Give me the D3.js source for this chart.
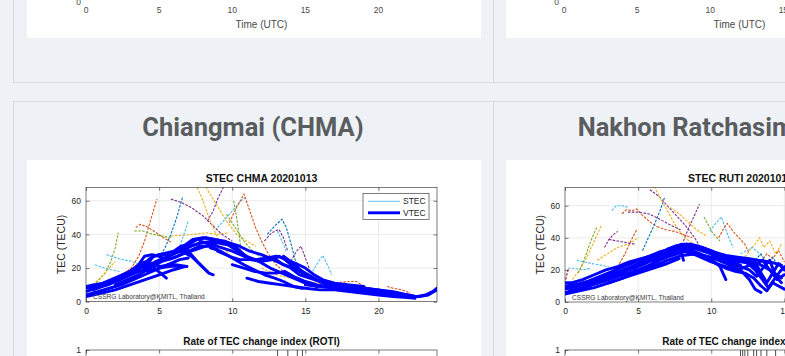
<!DOCTYPE html>
<html><head><meta charset="utf-8">
<script src="https://cdn.jsdelivr.net/npm/d3@7"></script>
<style>
html,body{margin:0;padding:0;background:#eef2f6;overflow:hidden;}
svg{display:block;}
</style></head><body>
<svg id="page" width="785" height="356"></svg>
<script>
// ---- axis ticks ----
const hourTicks = [0, 5, 10, 15, 20];
const tecTicks = [0, 20, 40, 60];

// ---- Chiangmai (CHMA) slant TEC passes: [hour UTC, TECU] ----
const chmaStec = [
  [[0.3,8],[0.8,12],[1.3,17],[1.7,24],[2.0,32],[2.2,41]],
  [[0.2,9],[0.7,12],[1.2,16],[1.6,20],[2.0,24]],
  [[1.4,28],[1.9,26.5],[2.5,25],[3.1,24],[3.7,22],[4.2,21]],
  [[0.6,22],[1.1,20.5],[1.7,19],[2.3,18]],
  [[2.6,17],[3.1,20],[3.6,27],[4.0,36],[4.4,48],[4.85,61]],
  [[3.4,44],[3.7,46],[4.2,44.5],[4.8,41],[5.3,38],[5.8,35.5]],
  [[3.3,42],[3.9,42],[4.6,40],[5.2,39],[5.8,38]],
  [[5.8,39],[6.6,39.5],[7.4,40],[8.2,41],[9.0,40],[9.8,41]],
  [[5.0,26],[5.4,32],[5.8,40],[6.2,50],[6.6,62]],
  [[6.0,27],[6.4,33],[6.7,40],[7.0,48]],
  [[5.8,61],[6.5,59],[7.2,56],[8.0,51],[8.7,45],[9.3,40],[10.0,36]],
  [[7.6,68],[8.0,60],[8.4,50],[8.9,40],[9.4,32],[9.9,27]],
  [[8.2,68],[8.9,58],[9.6,48],[10.3,40],[11.0,36],[11.6,33]],
  [[8.3,48],[8.7,54],[9.0,61],[9.4,68]],
  [[9.0,44],[9.6,50],[10.1,55],[10.6,60],[10.9,62]],
  [[9.8,47],[10.3,56],[10.8,64],[11.2,54],[11.6,44],[12.0,36],[12.5,28],[13.0,22],[13.5,18]],
  [[10.1,60],[10.3,50],[10.5,38],[10.6,30],[10.8,24]],
  [[12.4,40],[12.9,45],[13.4,49],[13.7,44],[14.0,35],[14.3,25],[14.6,20]],
  [[12.2,36],[12.7,41],[13.2,43],[13.5,38],[13.8,30]],
  [[13.1,42],[13.3,38],[13.5,34],[13.7,30]],
  [[14.0,24],[14.4,30],[14.7,33],[15.0,26],[15.3,19]],
  [[15.5,18],[15.9,24],[16.2,27.5],[16.5,22],[16.8,16]],
  [[16.8,11],[17.4,11.5],[18.0,12],[18.5,12],[19.0,9],[19.5,8]],
  [[20.6,9],[21.0,8],[21.6,7],[22.2,5]],
  [[12.0,20],[13.0,16],[14.0,14],[15.0,12],[16.0,11]],
  [[9.6,52],[10.2,44],[10.8,36],[11.4,30],[12.0,26]]
];

// ---- Chiangmai (CHMA) vertical TEC passes ----
const chmaVtec = [
  [[0,4],[0.8,6],[1.6,8],[2.4,10],[3.2,13],[4,16],[4.8,19],[5.6,22],[6.4,25],[7,26]],
  [[0,6],[0.7,8],[1.5,10],[2.3,13],[3.1,16],[3.9,19],[4.7,22],[5.5,26],[6.3,30],[7.1,33],[7.9,35],[8.6,36],[9.3,35],[10,33]],
  [[0,9],[0.5,10],[1.2,11],[2,13],[2.8,16],[3.5,19],[4.2,22],[4.6,27],[5,28],[5.5,29],[6,30],[6.5,33],[7,34],[7.6,37],[8.2,38],[8.8,37],[9.5,36],[10.2,33],[10.8,28]],
  [[0.5,7],[1.3,10],[2.2,14],[3,17],[3.8,21],[4.2,24],[4.6,22],[5.1,21],[5.7,22],[6.1,22],[6.9,21]],
  [[1.6,12],[2.4,15],[3.2,19],[3.8,23],[4.2,24],[4.8,19],[5.5,14]],
  [[4,20],[4.8,24],[5.6,27],[6.3,30],[6.9,31],[7.6,24],[8.3,18]],
  [[3,17],[3.8,21],[4.4,26],[5,28],[5.8,28],[6.5,30],[7.2,33],[7.8,35],[8.5,35],[9.2,36],[9.8,35],[10.5,33],[11.2,30],[12,28],[12.8,25],[13.5,22],[14.2,20],[15,16],[15.8,13],[16.5,10]],
  [[4.2,18],[5,20],[5.8,21],[6.9,21]],
  [[6.5,32],[7.3,37],[8,38],[8.8,37],[9.5,35],[10.2,31],[11,27],[11.8,24],[12.6,20],[13.4,17],[14.2,14],[15,11],[15.8,9]],
  [[7.8,36],[8.6,34],[9.3,32],[10,30],[10.8,27],[11.6,25],[12.4,26],[13,27],[13.5,26],[14,22],[14.6,19],[15.2,16],[16,12],[16.8,9],[17.5,8]],
  [[8.5,32],[9.2,30],[10,26],[10.8,22],[11.5,19],[12.2,16],[12.9,14],[13.5,12],[14.2,9],[14.8,8]],
  [[9,30],[9.8,27],[10.5,25],[11.2,25],[12,24],[12.8,25],[13.2,27],[13.8,24],[14.5,20],[15.2,15],[16,12],[17,10],[18,8],[19,7],[20,6],[21,5]],
  [[10,22],[10.8,20],[11.5,18],[12.3,17],[13,17],[13.6,18],[14.2,15],[15,12],[15.8,10],[16.6,9],[17.5,8],[18.4,7]],
  [[6.5,30],[7.2,27],[7.8,22],[8.4,17],[8.7,16]],
  [[13,25],[13.5,22],[14,20],[14.6,16],[15.3,14],[16,12],[17,10],[18,9],[19,8],[20,7],[21,6],[22,4],[22.6,3]],
  [[15,10],[16,9],[17,8],[18,7],[19,6],[20,5],[21,4],[22,3],[22.8,3],[23.4,4],[24,7]],
  [[18,9],[19,8],[20,7],[21,5],[22,4],[22.6,3],[23.2,4],[23.7,6],[24,8]],
  [[13.5,27],[14,24],[14.5,22],[15,20],[15.6,16],[16.2,13],[17,11],[18,10],[19,9]],
  [[0,3],[1,5],[2,7],[3,10],[4,13],[5,16],[6,19],[6.8,21]],
  [[0,8],[0.6,9],[1.4,12],[2.2,15],[3,18],[3.6,22],[4,27],[4.5,28],[5,27],[5.6,25],[6.2,27],[7,30],[7.8,33],[8.4,33],[9,31]],
  [[2,10],[2.8,13],[3.6,16],[4.4,20],[5.2,24],[6,26],[6.8,29],[7.5,31],[8.2,33],[9,35],[9.6,34]],
  [[11,14],[11.8,12],[12.6,11],[13.4,10],[14.2,9],[15,8],[16,7],[17,7],[18,6],[19,5],[20,4],[21,3],[22,2.5],[22.5,2]]
];

// ---- Nakhon Ratchasima (RUTI) slant TEC passes ----
const rutiStec = [
  [[0.05,14],[0.15,18],[0.25,21]],
  [[0.2,21],[0.7,21],[1.2,20],[1.7,21]],
  [[0.5,14],[1.0,20],[1.5,28],[2.0,38],[2.5,48]],
  [[0.9,18],[1.3,26],[1.6,34],[1.9,41],[2.2,47]],
  [[0.8,26],[1.3,25],[1.8,24],[2.4,23],[3.0,22]],
  [[2.7,34],[3.0,39],[3.3,42],[3.6,44]],
  [[3.1,16],[3.6,22],[4.1,30],[4.5,38],[4.9,45]],
  [[2.2,26],[2.9,30],[3.6,34],[4.3,36],[5.0,40]],
  [[3.9,55],[4.2,57.5],[4.6,57],[4.9,58],[5.3,54],[5.8,50],[6.3,47]],
  [[3.2,57],[3.5,60],[3.9,60],[4.3,59]],
  [[3.0,39],[3.6,38],[4.2,37],[4.8,36]],
  [[5.3,32],[5.7,40],[6.1,48],[6.5,57],[6.8,65]],
  [[5.8,70],[6.4,66],[7.0,60],[7.6,54],[8.2,48],[8.8,41],[9.2,35]],
  [[8.1,38],[8.4,45],[8.7,51],[9.0,57],[9.2,61]],
  [[6.1,72],[6.5,65],[7.0,57],[7.6,47],[8.2,40],[8.8,36]],
  [[7.2,59],[7.8,55],[8.4,50],[9.0,45],[9.7,41]],
  [[6.3,47],[6.9,45],[7.5,44],[8.1,42],[8.7,40]],
  [[9.5,53],[9.8,48],[10.1,43],[10.4,40],[10.6,38]],
  [[9.9,44],[10.3,49],[10.7,53],[11.0,45],[11.3,38],[11.5,34]],
  [[10.5,40],[10.8,45],[11.1,49],[11.5,44],[11.9,40],[12.3,36],[12.6,30]],
  [[12.3,28],[12.7,33],[13.0,36],[13.3,40],[13.6,34],[14.0,38],[14.4,30],[14.8,36]],
  [[12.0,30],[12.4,32],[12.8,34],[13.2,31],[13.5,28]],
  [[13.4,25],[13.8,30],[14.2,27],[14.6,32],[15.0,25]],
  [[13.0,26],[13.4,30],[13.8,24],[14.2,28],[14.6,22]],
  [[4.3,56],[5.0,56],[5.7,55],[6.4,52],[7.2,48],[7.9,45]]
];

// ---- Nakhon Ratchasima (RUTI) vertical TEC passes ----
const rutiVtec = [
  [[0,6],[1,8],[2,11],[3,14],[4,17],[5,20],[6,24],[7,28],[8,31],[8.8,33]],
  [[0,8],[1,10],[2,13],[3,16],[4,19],[5,22],[6,26],[7,30],[8,33],[9,33],[10,30],[11,26],[12,23]],
  [[0,10],[0.8,11],[1.6,13],[2.4,16],[3.2,19],[4,22],[4.8,25],[5.6,28],[6.4,31],[7.2,33],[8,35],[8.8,34],[9.6,32],[10.4,28],[11.2,26],[12,25],[12.8,24]],
  [[0,12],[0.5,12],[1.2,14],[2,17],[2.8,20],[3.6,22],[4.4,25],[5.2,27],[6,29],[6.8,32],[7.6,35],[8.3,36],[9,34],[9.8,31],[10.6,27],[11.4,25]],
  [[0.3,7],[1.2,9],[2.1,12],[3,15],[3.8,18],[4.6,21],[5.3,19]],
  [[2.5,15],[3.5,18],[4.5,21],[5.5,25],[6.5,29],[7.3,32],[7.9,33],[8.1,26]],
  [[4,20],[5,23],[6,27],[7,32],[7.8,34],[8.6,35],[9.4,33],[10.2,30],[11,27],[11.8,27],[12.5,26],[13.2,24],[14,20],[14.8,15]],
  [[6,25],[7,29],[8,33],[9,31],[10,27],[10.6,22],[11,14]],
  [[8,32],[9,29],[10,25],[11,22],[11.8,20],[12.4,22],[13,25],[13.4,18],[13.8,12],[14.2,18],[14.6,24],[15,20]],
  [[9.5,28],[10.3,24],[11,21],[11.7,19],[12.3,18],[12.9,15],[13.4,10],[13.8,7],[14.2,12],[14.6,10],[15,8]],
  [[10.5,26],[11.3,24],[12,22],[12.6,20],[13.1,16],[13.6,22],[14,26],[14.4,16],[14.8,12]],
  [[12.5,24],[13,20],[13.5,14],[13.9,9],[14.3,14],[14.7,19],[15,22]],
  [[11.8,26],[12.4,27],[13,23],[13.5,26],[14,20],[14.5,14],[15,17]],
  [[1.5,11],[2.5,13],[3.5,16],[4.5,18],[5.5,21],[6.5,24]],
  [[0,5],[1,7],[2,9],[3,12],[4,15],[5,18],[6,21],[7,24],[7.8,27]],
  [[0,9],[1,11],[2,14],[3,17],[4,20],[5,24],[6,28],[7,31],[8,34],[9,35],[10,32],[11,28],[12,26],[13,22],[13.6,15]],
  [[3,12],[4,15],[5,19],[6,22],[7,26],[8,29],[9,30],[10,28],[11,24],[12,20],[12.6,14],[13,8],[13.4,6]],
  [[7,33],[8,36],[8.6,36],[9.4,34],[10.2,31],[11,29],[11.8,28],[12.6,27],[13.2,26],[14,25],[14.8,23]]
];

// ---- ROTI samples above the top of the 0..1 axis: [hour, ROTI] ----
const chmaRoti = [[13.1,1.4],[13.8,1.3],[14.45,1.5],[14.8,1.3]];
const rutiRoti = [[12.0,1.3],[12.15,1.5],[12.3,1.2],[12.5,1.4],[12.9,1.3],[13.1,1.6],[13.4,1.2],[13.8,1.4],[14.4,1.3]];

// MATLAB default line colour order
const colorOrder = ['#0072BD','#D95319','#EDB120','#7E2F8E','#77AC30','#4DBEEE','#A2142F'];
const chmaStecColors = [4,2,5,5,1,1,4,2,0,5,3,2,2,3,5,1,4,0,3,5,3,5,1,1,2,4];
const rutiStecColors = [6,5,2,4,5,3,1,2,1,5,3,0,3,3,2,2,1,4,5,1,2,5,1,0,3];

const svg = d3.select('#page');
const FONT = "'Liberation Sans', Arial, Helvetica, sans-serif";

// ---- page frame ----
const frame = svg.append('g');
const borderColor = '#d3d9df';
// bottom of the previous row of cards
frame.append('rect').attr('x', 27).attr('y', 0).attr('width', 454).attr('height', 38).attr('fill', '#fff');
frame.append('rect').attr('x', 506).attr('y', 0).attr('width', 300).attr('height', 38).attr('fill', '#fff');
frame.append('line').attr('x1', 13.5).attr('x2', 13.5).attr('y1', 0).attr('y2', 82.5).attr('stroke', borderColor);
frame.append('line').attr('x1', 493.5).attr('x2', 493.5).attr('y1', 0).attr('y2', 82.5).attr('stroke', borderColor);
frame.append('line').attr('x1', 13.5).attr('x2', 785).attr('y1', 82.5).attr('y2', 82.5).attr('stroke', borderColor);
// current row of cards
frame.append('line').attr('x1', 13.5).attr('x2', 785).attr('y1', 101.5).attr('y2', 101.5).attr('stroke', borderColor);
frame.append('line').attr('x1', 13.5).attr('x2', 13.5).attr('y1', 101.5).attr('y2', 356).attr('stroke', borderColor);
frame.append('line').attr('x1', 493.5).attr('x2', 493.5).attr('y1', 101.5).attr('y2', 356).attr('stroke', borderColor);
frame.append('rect').attr('x', 27).attr('y', 160).attr('width', 454).attr('height', 200).attr('fill', '#fff');
frame.append('rect').attr('x', 506).attr('y', 160).attr('width', 300).attr('height', 200).attr('fill', '#fff');

const cardTitles = [
  {text: 'Chiangmai (CHMA)', cx: 253},
  {text: 'Nakhon Ratchasima (RUTI)', cx: 733}
];
frame.selectAll('text.card').data(cardTitles).join('text')
  .attr('class', 'card')
  .attr('x', d => d.cx).attr('y', 135.5)
  .attr('text-anchor', 'middle')
  .style('font-family', "Roboto, 'Noto Sans', sans-serif")
  .style('font-weight', 700).style('font-size', '25.5px')
  .style('fill', '#5a5d60')
  .text(d => d.text);

// x-axis labels of the row above
function drawUpperAxisTail(left) {
  const x = d3.scaleLinear().domain([0, 24]).range([left, left + 351]);
  const g = svg.append('g').style('font-family', FONT);
  g.selectAll('text.tick').data(hourTicks).join('text')
    .attr('x', d => x(d)).attr('y', 13)
    .attr('text-anchor', 'middle').style('font-size', '8.5px').style('fill', '#4a4a4a')
    .text(d => d);
  g.append('text').attr('x', x(12)).attr('y', 28).attr('text-anchor', 'middle')
    .style('font-size', '10px').style('fill', '#4a4a4a').text('Time (UTC)');
  g.append('text').attr('x', left - 5).attr('y', 5).attr('text-anchor', 'end')
    .style('font-size', '8.5px').style('fill', '#4a4a4a').text('0');
}
drawUpperAxisTail(86);
drawUpperAxisTail(564);

// ---- one station figure: STEC/VTEC axes plus the top of the ROTI axes ----
function drawStation(cfg) {
  const x = d3.scaleLinear().domain([0, 24]).range([cfg.left, cfg.left + 351]);
  const y = d3.scaleLinear().domain([0, cfg.ymax]).range([cfg.bottom, cfg.top]);
  const g = svg.append('g').style('font-family', FONT);
  const clipId = 'clip-' + cfg.id;
  g.append('clipPath').attr('id', clipId).append('rect')
    .attr('x', x(0)).attr('y', y(cfg.ymax)).attr('width', x(24) - x(0)).attr('height', y(0) - y(cfg.ymax));

  // grid
  const grid = g.append('g').attr('stroke', '#e3e3e3').attr('stroke-width', 0.7);
  grid.selectAll('line.gx').data(hourTicks.slice(1)).join('line')
    .attr('x1', d => x(d)).attr('x2', d => x(d)).attr('y1', y(0)).attr('y2', y(cfg.ymax));
  grid.selectAll('line.gy').data(tecTicks.slice(1)).join('line')
    .attr('x1', x(0)).attr('x2', x(24)).attr('y1', d => y(d)).attr('y2', d => y(d));

  const line = d3.line().x(d => x(d[0])).y(d => y(d[1]));
  const plot = g.append('g').attr('clip-path', `url(#${clipId})`);
  plot.selectAll('path.stec').data(cfg.stec).join('path')
    .attr('d', line).attr('fill', 'none')
    .attr('stroke', (d, i) => colorOrder[cfg.stecColors[i % cfg.stecColors.length]])
    .attr('stroke-width', 1.1).attr('stroke-dasharray', '2.6,1.3');
  plot.selectAll('path.vtec').data(cfg.vtec).join('path')
    .attr('d', line).attr('fill', 'none')
    .attr('stroke', '#0000ff').attr('stroke-width', 2.9)
    .attr('stroke-linejoin', 'round').attr('stroke-linecap', 'round');

  g.append('text').attr('x', x(0) + 7).attr('y', y(0) - 2.5)
    .style('font-size', '6.6px').style('fill', '#3a3a3a')
    .text('CSSRG Laboratory@KMITL, Thailand');

  // axes
  const axisColor = '#262626';
  const styleAxis = sel => {
    sel.select('.domain').remove();
    sel.selectAll('line').attr('stroke', axisColor).attr('stroke-width', 0.6);
    sel.selectAll('text').style('font-size', '8.5px').style('fill', axisColor).style('font-family', FONT);
  };
  g.append('g').attr('transform', `translate(0,${y(0)})`)
    .call(d3.axisBottom(x).tickValues(hourTicks).tickSizeInner(-3.5).tickSizeOuter(0).tickPadding(6))
    .call(styleAxis);
  g.append('g').attr('transform', `translate(0,${y(cfg.ymax)})`)
    .call(d3.axisTop(x).tickValues(hourTicks).tickSizeInner(-3.5).tickSizeOuter(0).tickFormat(''))
    .call(styleAxis);
  g.append('g').attr('transform', `translate(${x(0)},0)`)
    .call(d3.axisLeft(y).tickValues(tecTicks).tickSizeInner(-3.5).tickSizeOuter(0).tickPadding(5))
    .call(styleAxis);
  g.append('g').attr('transform', `translate(${x(24)},0)`)
    .call(d3.axisRight(y).tickValues(tecTicks).tickSizeInner(-3.5).tickSizeOuter(0).tickFormat(''))
    .call(styleAxis);
  g.append('rect').attr('x', x(0)).attr('y', y(cfg.ymax)).attr('width', x(24) - x(0)).attr('height', y(0) - y(cfg.ymax))
    .attr('fill', 'none').attr('stroke', axisColor).attr('stroke-width', 0.6);

  g.append('text').attr('x', x(12)).attr('y', y(cfg.ymax) - 5)
    .attr('text-anchor', 'middle').style('font-size', '10.5px').style('font-weight', 700).style('fill', '#111')
    .text(cfg.title);
  g.append('text').attr('transform', `translate(${cfg.left - 21},${(y(0) + y(cfg.ymax)) / 2}) rotate(-90)`)
    .attr('text-anchor', 'middle').style('font-size', '10.5px').style('fill', axisColor)
    .text('TEC (TECU)');

  // legend
  const lg = g.append('g').attr('transform', `translate(${x(0) + 277},${y(cfg.ymax) + 6})`);
  lg.append('rect').attr('width', 66).attr('height', 26).attr('fill', '#fff').attr('stroke', axisColor).attr('stroke-width', 0.6);
  lg.append('line').attr('x1', 5).attr('x2', 37).attr('y1', 8).attr('y2', 8).attr('stroke', '#4DBEEE').attr('stroke-width', 0.9);
  lg.append('line').attr('x1', 5).attr('x2', 37).attr('y1', 19.5).attr('y2', 19.5).attr('stroke', '#0000ff').attr('stroke-width', 2.9);
  lg.append('text').attr('x', 40).attr('y', 11).style('font-size', '8.5px').style('fill', axisColor).text('STEC');
  lg.append('text').attr('x', 40).attr('y', 22.5).style('font-size', '8.5px').style('fill', axisColor).text('VTEC');

  // ROTI axes (only its top edge falls inside the page)
  const rTop = cfg.rotiTop;
  const ry = d3.scaleLinear().domain([0, 1]).range([rTop + 110, rTop]);
  const rClip = 'rclip-' + cfg.id;
  g.append('clipPath').attr('id', rClip).append('rect')
    .attr('x', x(0)).attr('y', rTop).attr('width', x(24) - x(0)).attr('height', 110);
  g.append('g').attr('stroke', '#e3e3e3').attr('stroke-width', 0.7)
    .selectAll('line').data(hourTicks.slice(1)).join('line')
    .attr('x1', d => x(d)).attr('x2', d => x(d)).attr('y1', ry(0)).attr('y2', ry(1));
  g.append('g').attr('clip-path', `url(#${rClip})`)
    .selectAll('line').data(cfg.roti).join('line')
    .attr('x1', d => x(d[0])).attr('x2', d => x(d[0]))
    .attr('y1', ry(0)).attr('y2', d => ry(d[1]))
    .attr('stroke', '#222').attr('stroke-width', 0.8);
  g.append('g').attr('transform', `translate(0,${ry(1)})`)
    .call(d3.axisTop(x).tickValues(hourTicks).tickSizeInner(-3.5).tickSizeOuter(0).tickFormat(''))
    .call(styleAxis);
  g.append('g').attr('transform', `translate(${x(0)},0)`)
    .call(d3.axisLeft(ry).tickValues([1]).tickFormat(d3.format('d')).tickSizeInner(-3.5).tickSizeOuter(0).tickPadding(5))
    .call(styleAxis);
  g.append('rect').attr('x', x(0)).attr('y', ry(1)).attr('width', x(24) - x(0)).attr('height', 110)
    .attr('fill', 'none').attr('stroke', axisColor).attr('stroke-width', 0.6);
  g.append('text').attr('x', x(12)).attr('y', rTop - 5)
    .attr('text-anchor', 'middle').style('font-size', '10px').style('font-weight', 700).style('fill', '#111')
    .text('Rate of TEC change index (ROTI)');
}

drawStation({
  id: 'chma', title: 'STEC CHMA 20201013', left: 86, top: 187.3, bottom: 301.7, ymax: 68,
  stec: chmaStec, stecColors: chmaStecColors, vtec: chmaVtec, roti: chmaRoti, rotiTop: 350
});
drawStation({
  id: 'ruti', title: 'STEC RUTI 20201013', left: 565, top: 187.3, bottom: 302, ymax: 71.5,
  stec: rutiStec, stecColors: rutiStecColors, vtec: rutiVtec, roti: rutiRoti, rotiTop: 350
});
</script></body></html>
